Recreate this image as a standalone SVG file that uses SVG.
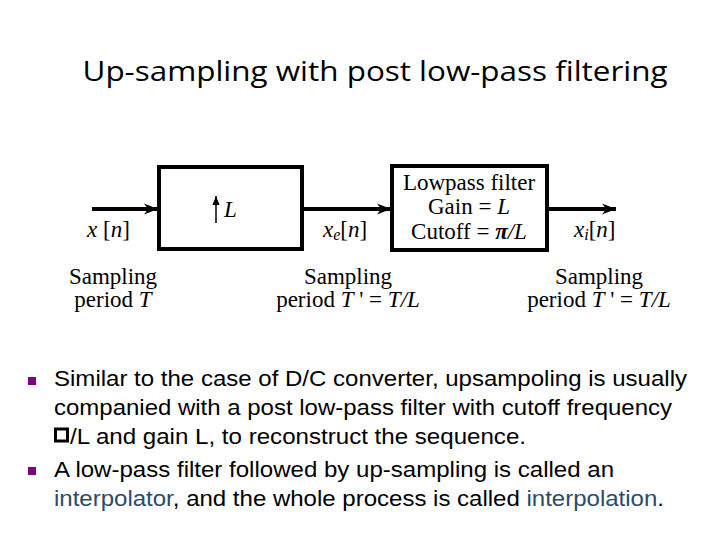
<svg xmlns="http://www.w3.org/2000/svg" width="720" height="540" viewBox="0 0 720 540">
<defs>
<marker id="ah" viewBox="0 0 10 10" refX="10" refY="5" markerWidth="5" markerHeight="3.5" markerUnits="strokeWidth" orient="auto"><path d="M0,1 L10,5 L0,9 L3,5 z" fill="#000"/></marker>
<marker id="ahs" viewBox="0 0 10 10" refX="10" refY="5" markerWidth="6" markerHeight="6" markerUnits="strokeWidth" orient="auto"><path d="M0,1 L10,5 L0,9 z" fill="#000"/></marker>
</defs>
<style>
.tm{font-family:"Liberation Serif",serif;font-size:23px;fill:#000}
.it{font-style:italic}
.box{fill:#fff;stroke:#000;stroke-width:4}
.wire{stroke:#000;stroke-width:4;fill:none}
.body{font-family:"Liberation Sans",Arial,sans-serif;font-size:22px;fill:#000}
.hl{fill:#2d4a6b}
.bul{fill:#800080}
</style>
<rect width="720" height="540" fill="#fff"/>
<text x="375" y="81" text-anchor="middle" font-family="'Open Sans','Noto Sans',sans-serif" font-size="28" fill="#000" textLength="585" lengthAdjust="spacingAndGlyphs">Up-sampling with post low-pass filtering</text>

<g id="connectors">
<line class="wire" x1="92" y1="209" x2="158" y2="209" marker-end="url(#ah)"/>
<line class="wire" x1="302" y1="209" x2="391" y2="209" marker-end="url(#ah)"/>
<line class="wire" x1="547" y1="209" x2="616" y2="209" marker-end="url(#ah)"/>
</g>

<g id="upsampler">
<rect class="box" x="159" y="167" width="143" height="82"/>
<line x1="216" y1="223" x2="216" y2="196" stroke="#000" stroke-width="1.5" marker-end="url(#ahs)"/>
<text class="tm it" x="224" y="217">L</text>
</g>

<g id="lowpass">
<rect class="box" x="392" y="166" width="155" height="84"/>
<text class="tm" x="469" y="190" text-anchor="middle">Lowpass filter</text>
<text class="tm" x="469" y="214" text-anchor="middle">Gain = <tspan class="it">L</tspan></text>
<text class="tm" x="469" y="239" text-anchor="middle">Cutoff = <tspan class="it" font-weight="bold">π</tspan><tspan class="it">/L</tspan></text>
</g>

<g id="labels">
<text class="tm it" x="87" y="237">x<tspan font-style="normal"> [</tspan>n<tspan font-style="normal">]</tspan></text>
<text class="tm it" x="323" y="237">x<tspan font-size="16" dy="3">e</tspan><tspan font-style="normal" dy="-3">[</tspan>n<tspan font-style="normal">]</tspan></text>
<text class="tm it" x="574" y="237">x<tspan font-size="16" dy="3">i</tspan><tspan font-style="normal" dy="-3">[</tspan>n<tspan font-style="normal">]</tspan></text>
<text class="tm" x="113" y="284" text-anchor="middle">Sampling</text>
<text class="tm" x="113" y="307" text-anchor="middle">period <tspan class="it">T</tspan></text>
<text class="tm" x="348" y="284" text-anchor="middle">Sampling</text>
<text class="tm" x="348" y="307" text-anchor="middle">period <tspan class="it">T</tspan> ' = <tspan class="it">T/L</tspan></text>
<text class="tm" x="599" y="284" text-anchor="middle">Sampling</text>
<text class="tm" x="599" y="307" text-anchor="middle">period <tspan class="it">T</tspan> ' = <tspan class="it">T/L</tspan></text>
</g>

<g id="bullets">
<rect class="bul" x="28" y="377" width="8" height="8"/>
<rect class="bul" x="28" y="467" width="8" height="8"/>
<text class="body" x="54" y="386" textLength="633" lengthAdjust="spacingAndGlyphs">Similar to the case of D/C converter, upsampoling is usually</text>
<text class="body" x="54" y="415" textLength="618" lengthAdjust="spacingAndGlyphs">companied with a post low-pass filter with cutoff frequency</text>
<rect x="55.5" y="429" width="12" height="12" fill="none" stroke="#000" stroke-width="3"/>
<text class="body" x="70" y="444" textLength="456" lengthAdjust="spacingAndGlyphs">/L and gain L, to reconstruct the sequence.</text>
<text class="body" x="54" y="477" textLength="560" lengthAdjust="spacingAndGlyphs">A low-pass filter followed by up-sampling is called an</text>
<text class="body" x="54" y="506" textLength="610" lengthAdjust="spacingAndGlyphs"><tspan class="hl">interpolator</tspan>, and the whole process is called <tspan class="hl">interpolation</tspan>.</text>
</g>
</svg>
